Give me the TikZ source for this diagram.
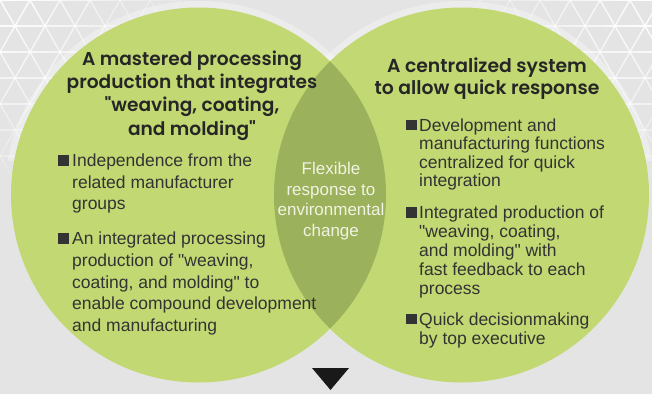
\documentclass[tikz,border=0pt]{standalone}
\usepackage{fontspec}
\setmainfont{Liberation Sans}[Ligatures=TeXOff]
\newfontfamily\titlefont{Poppins}[Ligatures=TeXOff, BoldFont={* SemiBold}]
\definecolor{bggray}{HTML}{E4E4E4}
\definecolor{leaf}{HTML}{C2D872}
\definecolor{lens}{HTML}{9CB15B}
\definecolor{titleink}{HTML}{262626}
\definecolor{bodyink}{HTML}{333333}
\definecolor{lensink}{HTML}{F1F3E4}
\begin{document}
\begin{tikzpicture}[x=1pt,y=-1pt,
  headline/.style={font=\titlefont\bfseries\fontsize{18.6}{23.3}\selectfont,
    text=titleink, align=center, inner sep=0, anchor=north},
  bodytext/.style={font=\fontsize{17.5}{#1}\selectfont,
    text=bodyink, align=left, inner sep=0, anchor=north west},
  bulletsq/.style={fill=bodyink, minimum width=11, minimum height=10.7,
    inner sep=0, outer sep=0},
  lattice/.style={white, line width=1.4}]
\useasboundingbox (0,0) rectangle (652,394);
% backdrop
\fill[bggray] (0,0) rectangle (652,394);
% white triangular lattice in the two upper corners, fading outwards
\foreach \cx in {0,652}{
  \foreach \k in {0,...,9}{
    \begin{scope}[even odd rule]
      \clip (\cx,0) circle ({\k*18+18}) (\cx,0) circle ({\k*18+0.01});
      \begin{scope}[opacity={0.95-\k*0.085}]
        \foreach \i in {0,...,8}
          \draw[lattice] (0,{\i*26}) -- (652,{\i*26});
        \foreach \x in {-150,-120,...,810}{
          \draw[lattice] (\x,0) -- ({\x+120},207.8);
          \draw[lattice] (\x,0) -- ({\x-120},207.8);
        }
      \end{scope}
    \end{scope}
  }
}
% soft light halo round the upper part of the circles
\begin{scope}
  \clip (0,0) rectangle (652,160);
  \foreach \c in {198.5,461.5}
    \fill[white, opacity=0.3] (\c,195) circle (194);
\end{scope}
% the two circles and their overlap
\node[circle, fill=leaf, minimum size=375, inner sep=0] (lc) at (198.5,195) {};
\node[circle, fill=leaf, minimum size=375, inner sep=0] (rc) at (461.5,195) {};
\begin{scope}
  \clip (198.5,195) circle (187.5);
  \fill[lens] (461.5,195) circle (187.5);
\end{scope}
% headings
\node[headline] (lhead) at (192,50.5)
  {A mastered processing\\production that integrates\\"weaving, coating,\\and molding"};
\node[headline, font=\titlefont\bfseries\fontsize{18.8}{22.5}\selectfont] (rhead) at (487,57.5)
  {A centralized system\\to allow quick response};
% left list
\node[bulletsq] (lb1) at (63.2,160.3) {};
\node[bodytext=21.7] (lt1) at (72,153.6)
  {Independence from the\\related manufacturer\\groups};
\node[bulletsq] (lb2) at (63.2,238.7) {};
\node[bodytext=21.6] (lt2) at (72,232)
  {An integrated processing\\production of "weaving,\\coating, and molding" to\\enable compound development\\and manufacturing};
% right list
\node[bulletsq] (rb1) at (411,125) {};
\node[bodytext=18.5] (rt1) at (419,118.6)
  {Development and\\manufacturing functions\\centralized for quick\\integration};
\node[bulletsq] (rb2) at (411,212.5) {};
\node[bodytext=18.8] (rt2) at (419,206)
  {Integrated production of\\"weaving, coating,\\and molding" with\\fast feedback to each\\process};
\node[bulletsq] (rb3) at (411,319) {};
\node[bodytext=18.8] (rt3) at (419,312.4)
  {Quick decisionmaking\\by top executive};
% overlap caption
\node[font=\fontsize{17}{20.7}\selectfont, text=lensink, align=center,
  inner sep=0, anchor=north] (mid) at (331,162)
  {Flexible\\response to\\environmental\\change};
% downward marker
\fill[black!90] (312,368) -- (349,368) -- (330.5,390) -- cycle;
\end{tikzpicture}
\end{document}
